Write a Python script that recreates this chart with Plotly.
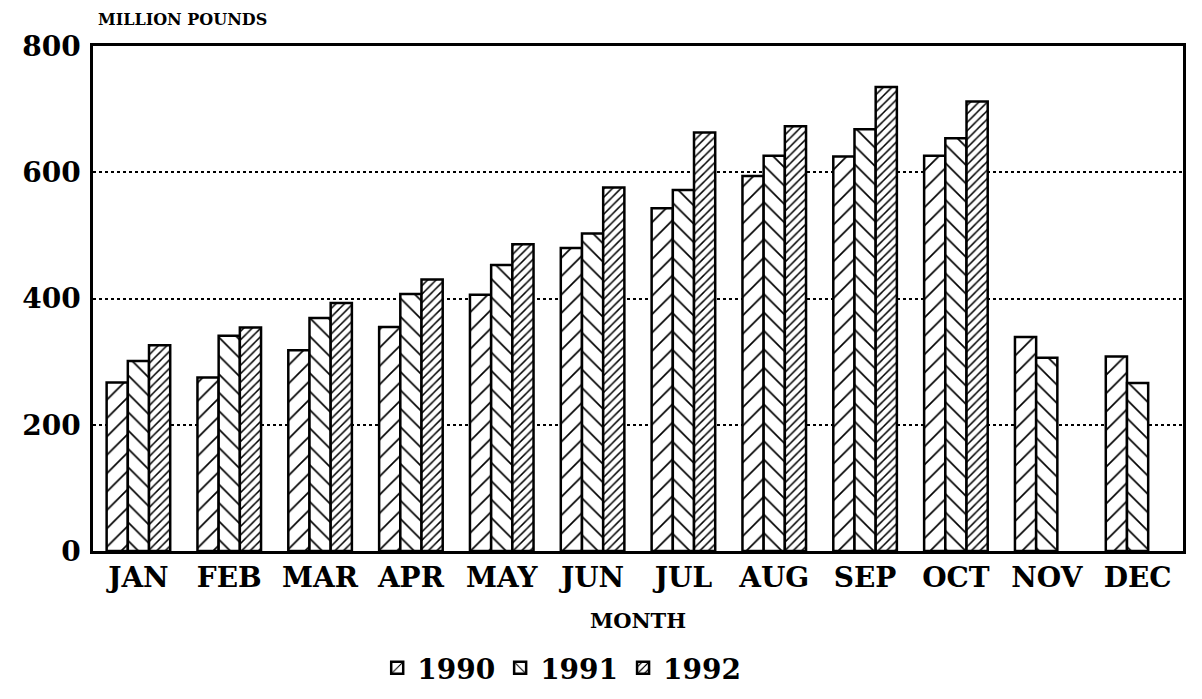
import plotly.graph_objects as go

months = ["JAN", "FEB", "MAR", "APR", "MAY", "JUN", "JUL", "AUG", "SEP", "OCT", "NOV", "DEC"]
y1990 = [267, 275, 318, 355, 406, 480, 543, 594, 625, 626, 339, 308]
y1991 = [301, 341, 369, 407, 453, 503, 572, 626, 668, 654, 306, 266]
y1992 = [326, 354, 393, 430, 486, 576, 663, 673, 735, 712, None, None]
yticks = [0, 200, 400, 600, 800]

FONT = "DejaVu Serif"

fig = go.Figure()
series = [
    ("1990", y1990, "/", 13, 0.13),
    ("1991", y1991, "\\", 13, 0.13),
    ("1992", y1992, "/", 6, 0.25),
]
for name, vals, shape, size, sol in series:
    fig.add_trace(go.Bar(
        x=months, y=vals, name=name,
        marker=dict(
            color="white",
            line=dict(color="black", width=2.5),
            pattern=dict(shape=shape, size=size, solidity=sol,
                         fgcolor="black", bgcolor="white", fillmode="replace"),
        ),
    ))

fig.update_layout(
    width=1194, height=691,
    paper_bgcolor="white", plot_bgcolor="white",
    barmode="group", bargap=0.3, bargroupgap=0.0,
    margin=dict(l=85, r=19, t=38, b=148, autoexpand=False),
    font=dict(family=FONT, color="black", weight="bold"),
    showlegend=True,
    legend=dict(orientation="h", x=0.43, xanchor="center", y=-0.232, yanchor="middle",
                font=dict(family=FONT, size=28, color="black", weight="bold"),
                traceorder="normal"),
    xaxis=dict(
        showline=True, linecolor="black", linewidth=2.5, mirror=True,
        ticks="", tickfont=dict(family=FONT, size=28, weight="bold"),
        title=dict(text="MONTH", font=dict(family=FONT, size=21, weight="bold"), standoff=20),
        automargin=False,
    ),
    yaxis=dict(
        range=[0, 800], tickvals=yticks,
        showline=True, linecolor="black", linewidth=2.5, mirror=True,
        showgrid=True, gridcolor="black", gridwidth=1.5, griddash="dot",
        zeroline=False, ticks="", ticklabelstandoff=4,
        tickfont=dict(family=FONT, size=28, weight="bold"),
        automargin=False,
    ),
    annotations=[dict(text="MILLION POUNDS", xref="paper", yref="paper",
                      x=0.003, y=1.0, xanchor="left", yanchor="bottom", yshift=15,
                      showarrow=False,
                      font=dict(family=FONT, size=16, color="black", weight="bold"))],
)

fig.write_html("out.html")
